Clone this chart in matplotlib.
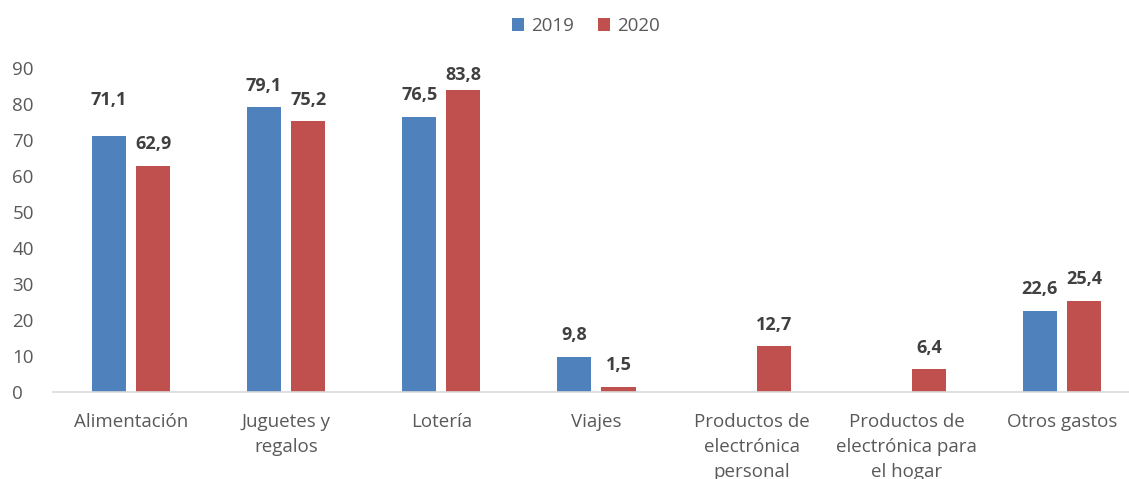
import matplotlib
matplotlib.use('Agg')
import matplotlib.pyplot as plt
import numpy as np

categorias = ['Alimentación', 'Juguetes y\nregalos', 'Lotería', 'Viajes',
              'Productos de\nelectrónica\npersonal',
              'Productos de\nelectrónica para\nel hogar', 'Otros gastos']
v2019 = [71.1, 79.1, 76.5, 9.8, None, None, 22.6]
v2020 = [62.9, 75.2, 83.8, 1.5, 12.7, 6.4, 25.4]
series = ['2019', '2020']
colores = ['#4F81BD', '#C0504D']

plt.rcParams['font.family'] = ['Open Sans', 'DejaVu Sans']

fig = plt.figure(figsize=(11.29, 4.79), dpi=100)
ax = fig.add_axes([0.0473, 0.1816, 0.962, 0.6764])

x = np.arange(len(categorias))
ancho = 0.22
desp = 0.142
# algunas etiquetas estaban movidas a mano en el original
ajuste = {(0, 0): 4.0, (1, 2): -1.7}
for k, (vals, col, nom) in enumerate(zip([v2019, v2020], colores, series)):
    idx = [i for i, v in enumerate(vals) if v is not None]
    xs = [x[i] + (desp if k else -desp) for i in idx]
    ys = [vals[i] for i in idx]
    ax.bar(xs, ys, ancho, color=col, label=nom)
    for i, xi, v in zip(idx, xs, ys):
        ax.text(xi, v + 3.4 + ajuste.get((k, i), 0), f'{v:.1f}'.replace('.', ','),
                ha='center', va='bottom', fontsize=13, fontweight='bold',
                color='#404040', clip_on=False)

ax.set_xlim(-0.5, len(categorias) - 0.5)
ax.set_ylim(0, 90)
ax.set_yticks(range(0, 91, 10))
ax.set_xticks(x)
ax.set_xticklabels(categorias, fontsize=13.5, color='#595959', linespacing=1.52, va='top')
ax.tick_params(axis='y', labelsize=13.5, labelcolor='#595959', length=0, pad=29.5)
ax.tick_params(axis='x', length=0, pad=15)
for lado in ['top', 'right', 'left']:
    ax.spines[lado].set_visible(False)
ax.spines['bottom'].set_color('#D9D9D9')
ax.spines['bottom'].set_linewidth(1.2)
for lbl in ax.get_yticklabels():
    lbl.set_horizontalalignment('left')

fig.legend(loc='upper center', bbox_to_anchor=(0.519, 1.0), ncol=2, frameon=False,
           fontsize=13.5, labelcolor='#595959', handlelength=0.65, handleheight=0.65,
           handletextpad=0.35, columnspacing=1.3)

fig.savefig('out.png', dpi=100)
